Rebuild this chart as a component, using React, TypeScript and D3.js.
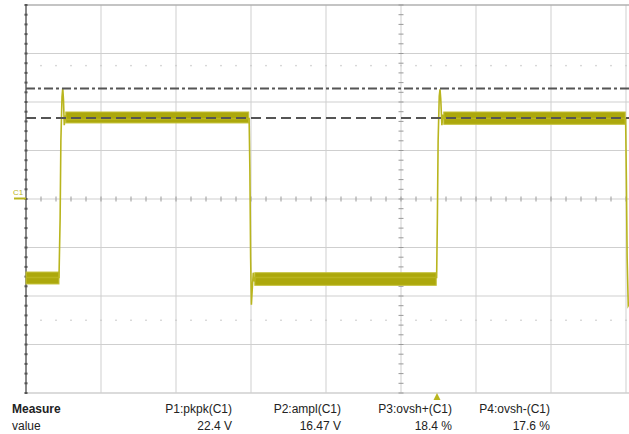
import React from "react";
import * as d3 from "d3";

// time in divisions (10 div screen, 8 visible), voltage in volts (5 V/div)
const traceT = [0, 0.44, 0.455, 0.465, 0.48, 0.49, 0.5, 0.51, 0.525, 0.54, 2.975, 2.985, 2.995, 3.005, 3.015, 3.03, 3.045, 3.06, 5.475, 5.485, 5.495, 5.51, 5.52, 5.53, 5.545, 5.56, 5.575, 7.995, 8.005, 8.015, 8.03, 8.1];
const traceV = [-8.1, -8.1, -2, 6, 10.5, 11.4, 10.2, 7.6, 8.6, 8.2, 8.3, 3, -6, -10.9, -9.5, -7.6, -8.5, -8.1, -8.1, -2, 6, 10.6, 11.3, 10.3, 7.6, 8.7, 8.3, 8.3, 2, -6, -11, -10];

const bandStart = [0, 0.53, 3.05, 5.57];
const bandEnd = [0.44, 2.97, 5.47, 7.99];
const bandLow = [-8.76, 7.84, -8.9, 7.7];
const bandHigh = [-7.53, 8.97, -7.6, 8.97];

const refMax = 11.4; // dash-dot line
const refTop = 8.35; // dashed line

const measNames = ["P1:pkpk(C1)", "P2:ampl(C1)", "P3:ovsh+(C1)", "P4:ovsh-(C1)"];
const measValues = ["22.4 V", "16.47 V", "18.4 %", "17.6 %"];

const W = 629;
const H = 434;
const x = d3.scaleLinear().domain([0, 10]).range([26, 776]);
const y = d3.scaleLinear().domain([-20, 20]).range([393, 5]);

const TRACE = "#b9b51e";
const BAND = "#aca80c";
const GRID = "#cfcfcf";

export default function App() {
  const pts: [number, number][] = traceT.map((t, i) => [t, traceV[i]]);
  const line = d3.line<[number, number]>().x((d) => x(d[0])).y((d) => y(d[1]));
  const vDivs = d3.range(0, 11);
  const hDivs = d3.range(-4, 5);
  const xMinor = d3.range(0, 10.001, 0.2);
  const yMinor = d3.range(-20, 20.001, 1);
  const measX = [232, 341, 452, 550];
  return (
    <svg width={W} height={H} style={{ position: "absolute", left: 0, top: 0, background: "#fff" }}>
      <rect x={0} y={0} width={W} height={H} fill="#fff" />
      {/* grid */}
      {vDivs.map((d) => (
        <line key={"v" + d} x1={x(d)} x2={x(d)} y1={y(20)} y2={y(-20)} stroke={GRID} strokeWidth={1} />
      ))}
      {hDivs.map((d) => (
        <line key={"h" + d} x1={x(0)} x2={W} y1={y(d * 5)} y2={y(d * 5)} stroke={d === 4 ? "#b0b0b0" : GRID} strokeWidth={d === 4 || d === -4 ? 1.5 : 1} />
      ))}
      {/* dotted rows */}
      {[y(13.75), y(-12.5)].map((yy, k) =>
        xMinor.slice(1).map((t, i) => (
          <rect key={"dot" + k + "-" + i} x={x(t) - 0.7} y={yy - 0.7} width={1.4} height={1.4} fill="#c8c8c8" />
        ))
      )}
      {/* center ticks */}
      {xMinor.map((t, i) => (
        <line key={"tx" + i} x1={x(t)} x2={x(t)} y1={y(0) - 2.5} y2={y(0) + 2.5} stroke="#999" strokeWidth={1} />
      ))}
      {yMinor.map((v, i) => (
        <line key={"ty" + i} x1={x(5) - 2.5} x2={x(5) + 2.5} y1={y(v)} y2={y(v)} stroke="#999" strokeWidth={1} />
      ))}
      {/* left border */}
      <line x1={x(0)} x2={x(0)} y1={y(20)} y2={y(-20)} stroke="#888" strokeWidth={2} />
      {yMinor.map((v, i) => (
        <line key={"lb" + i} x1={x(0) - 1.5} x2={x(0) + 1.5} y1={y(v)} y2={y(v)} stroke="#555" strokeWidth={2} />
      ))}
      {/* noise bands */}
      {bandStart.map((t0, i) => (
        <rect key={"b" + i} x={x(t0)} y={y(bandHigh[i])} width={x(bandEnd[i]) - x(t0)} height={y(bandLow[i]) - y(bandHigh[i])} fill={BAND} stroke="#c4c13a" strokeWidth={1} />
      ))}
      {/* trace */}
      <path d={line(pts) || ""} fill="none" stroke={TRACE} strokeWidth={1.6} />
      {/* reference lines */}
      <line x1={x(0)} x2={W} y1={y(refMax)} y2={y(refMax)} stroke="#555" strokeWidth={2} strokeDasharray="9 3 3 3" />
      <line x1={x(0)} x2={W} y1={y(refTop)} y2={y(refTop)} stroke="#555" strokeWidth={2} strokeDasharray="10 5" />
      {/* C1 marker */}
      <text x={13} y={195} fontFamily="Liberation Sans, Arial, sans-serif" fontSize={8} fill={TRACE}>C1</text>
      <line x1={14} x2={26} y1={y(0) - 0.5} y2={y(0) - 0.5} stroke={TRACE} strokeWidth={2} />
      {/* trigger marker */}
      <path d={`M${x(5.48)},${393} l-3.5,7 h7 z`} fill={TRACE} />
      {/* measurements */}
      <g fontFamily="Liberation Sans, Arial, sans-serif" fontSize={12} fill="#222">
        <text x={12} y={413} fontWeight="bold">Measure</text>
        <text x={12} y={430}>value</text>
        {measNames.map((n, i) => (
          <text key={"n" + i} x={measX[i]} y={413} textAnchor="end">{n}</text>
        ))}
        {measValues.map((v, i) => (
          <text key={"m" + i} x={measX[i]} y={430} textAnchor="end">{v}</text>
        ))}
      </g>
    </svg>
  );
}
